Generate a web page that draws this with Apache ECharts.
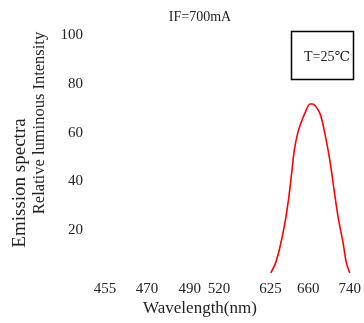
<!DOCTYPE html>
<html>
<head>
<meta charset="utf-8">
<script src="https://cdn.jsdelivr.net/npm/echarts@6/dist/echarts.min.js"></script>
<style>html,body{margin:0;padding:0;background:#fff}#c{width:364px;height:323px}</style>
</head>
<body>
<div id="c"></div>
<script>
// tick labels (wavelength, nm) and their slot index on the non-linear axis
const tickWavelengths = [455, 470, 490, 520, 625, 660, 740];
const tickSlots = [0, 5.86, 11.79, 15.86, 23.03, 28.28, 34.07];
const yTicks = [20, 40, 60, 80, 100];
// emission curve: wavelength (nm) and relative intensity
const wavelengths = [625.3, 629.6, 633.9, 638.4, 642.1, 644.7, 647.2, 650.3, 653.3, 657.0, 663.3, 668.2, 682.4, 692.0, 701.6, 709.9, 717.6, 727.2, 733.5, 740];
const intensity   = [2.5, 6.4, 13.2, 22.9, 33.7, 43.4, 52.9, 59.8, 63.9, 68.0, 71.7, 71.7, 68.0, 59.8, 48.8, 36.5, 25.4, 14.8, 6.6, 2.5];

function toSlot(w) {
  for (let i = 0; i < tickWavelengths.length - 1; i++) {
    const a = tickWavelengths[i], b = tickWavelengths[i + 1];
    if (w >= a && w <= b) return tickSlots[i] + (w - a) / (b - a) * (tickSlots[i + 1] - tickSlots[i]);
  }
  return w < tickWavelengths[0] ? tickSlots[0] : tickSlots[tickSlots.length - 1];
}
function slotLabel(s) {
  for (let i = 0; i < tickSlots.length; i++) {
    if (Math.abs(tickSlots[i] - s) < 0.01) return String(tickWavelengths[i]);
  }
  return '';
}

const serif = '"Liberation Serif", "DejaVu Serif", serif';
const chart = echarts.init(document.getElementById('c'));
chart.setOption({
  animation: false,
  grid: { left: 105, right: 12, top: 35, bottom: 44 },
  xAxis: {
    type: 'value', min: 0, max: tickSlots[tickSlots.length - 1],
    axisLine: { show: false }, axisTick: { show: false }, splitLine: { show: false },
    axisLabel: {
      customValues: tickSlots, formatter: slotLabel, margin: 3,
      fontFamily: serif, fontSize: 15, color: '#222'
    }
  },
  yAxis: {
    type: 'value', min: 0, max: 100, interval: 20,
    axisLine: { show: false }, axisTick: { show: false }, splitLine: { show: false },
    axisLabel: {
      formatter: v => (yTicks.indexOf(v) >= 0 ? String(v) : ''), margin: 22,
      fontFamily: serif, fontSize: 15, color: '#222'
    }
  },
  series: [{
    type: 'line', showSymbol: false, smooth: 0.3,
    lineStyle: { color: '#ff0000', width: 1.6 },
    data: wavelengths.map((w, i) => [toSlot(w), intensity[i]])
  }],
  graphic: [
    { type: 'text', style: { text: 'IF=700mA', font: '14px ' + serif, fill: '#222', x: 200, y: 17, align: 'center', verticalAlign: 'middle' } },
    { type: 'text', style: { text: 'Wavelength(nm)', font: '17px ' + serif, fill: '#222', x: 200, y: 309, align: 'center', verticalAlign: 'middle' } },
    { type: 'text', x: 20, y: 183, rotation: Math.PI / 2, style: { text: 'Emission spectra', font: '19px ' + serif, fill: '#222', align: 'center', verticalAlign: 'middle' } },
    { type: 'text', x: 40, y: 123, rotation: Math.PI / 2, style: { text: 'Relative luminous Intensity', font: '16.5px ' + serif, fill: '#222', align: 'center', verticalAlign: 'middle' } },
    { type: 'rect', shape: { x: 291.5, y: 31.5, width: 62, height: 48 }, style: { fill: 'none', stroke: '#000', lineWidth: 1.5 } },
    { type: 'text', style: { text: 'T=25℃', font: '14px ' + serif, fill: '#222', x: 327, y: 57, align: 'center', verticalAlign: 'middle' } }
  ]
});
</script>
</body>
</html>
